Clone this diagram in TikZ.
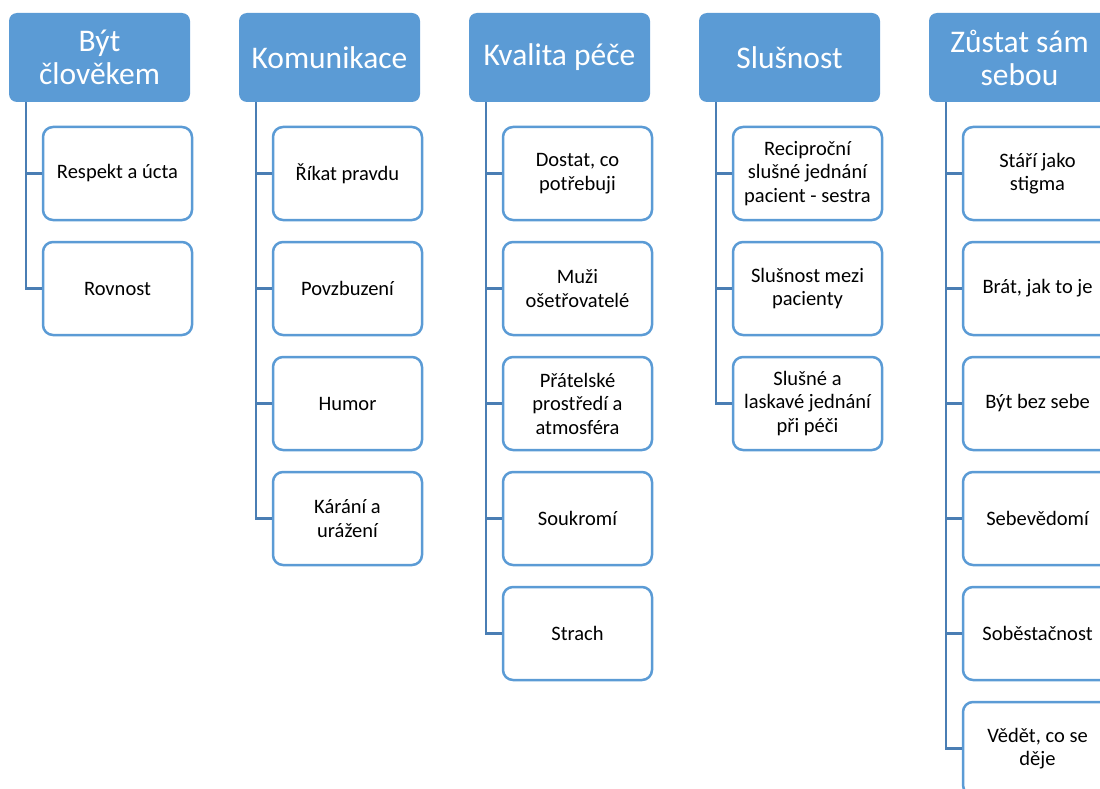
\documentclass[tikz,border=0pt]{standalone}
\usepackage{fontspec}
\setmainfont{Carlito}
\definecolor{hdrblue}{HTML}{5B9BD5}
\definecolor{linkblue}{HTML}{4A7EB4}
\tikzset{
  hdrbox/.style={rectangle, rounded corners=8pt, fill=hdrblue, text=white,
    minimum width=181pt, minimum height=89pt, inner sep=0pt, align=center,
    font=\fontsize{31.5}{33}\selectfont},
  itembox/.style={rectangle, rounded corners=10pt, draw=hdrblue, line width=2.5pt, fill=white,
    minimum width=149pt, minimum height=93pt, inner sep=0pt, align=center,
    font=\fontsize{20.5}{23.5}\selectfont},
  link/.style={draw=linkblue, line width=2.6pt}
}
\begin{document}
\begin{tikzpicture}[x=1pt,y=-1pt]
\useasboundingbox (0,0) rectangle (1100,789);
\clip (0,0) rectangle (1100,789);
% headers
\node[hdrbox] (h1) at (99.5,57.5) {Být\\člověkem};
\node[hdrbox] (h2) at (329.5,57.5) {Komunikace};
\node[hdrbox] (h3) at (559.5,57.5) {Kvalita péče};
\node[hdrbox] (h4) at (789.5,57.5) {Slušnost};
\node[hdrbox] (h5) at (1019.5,57.5) {Zůstat sám\\sebou};
% column 1
\node[itembox] (c11) at (117.5,173.5) {Respekt a úcta};
\node[itembox] (c12) at (117.5,288.5) {Rovnost};
% column 2
\node[itembox] (c21) at (347.5,173.5) {Říkat pravdu};
\node[itembox] (c22) at (347.5,288.5) {Povzbuzení};
\node[itembox] (c23) at (347.5,403.5) {Humor};
\node[itembox] (c24) at (347.5,518.5) {Kárání a\\urážení};
% column 3
\node[itembox] (c31) at (577.5,173.5) {Dostat, co\\potřebuji};
\node[itembox] (c32) at (577.5,288.5) {Muži\\ošetřovatelé};
\node[itembox] (c33) at (577.5,403.5) {Přátelské\\prostředí a\\atmosféra};
\node[itembox] (c34) at (577.5,518.5) {Soukromí};
\node[itembox] (c35) at (577.5,633.5) {Strach};
% column 4
\node[itembox] (c41) at (807.5,173.5) {Reciproční\\slušné jednání\\pacient - sestra};
\node[itembox] (c42) at (807.5,288.5) {Slušnost mezi\\pacienty};
\node[itembox] (c43) at (807.5,403.5) {Slušné a\\laskavé jednání\\při péči};
% column 5
\node[itembox] (c51) at (1037.5,173.5) {Stáří jako\\stigma};
\node[itembox] (c52) at (1037.5,288.5) {Brát, jak to je};
\node[itembox] (c53) at (1037.5,403.5) {Být bez sebe};
\node[itembox] (c54) at (1037.5,518.5) {Sebevědomí};
\node[itembox] (c55) at (1037.5,633.5) {Soběstačnost};
\node[itembox] (c56) at (1037.5,748.5) {Vědět, co se\\děje};
% connectors
\foreach \h/\list in {h1/{c11,c12}, h2/{c21,c22,c23,c24}, h3/{c31,c32,c33,c34,c35}, h4/{c41,c42,c43}, h5/{c51,c52,c53,c54,c55,c56}} {
  \foreach \c in \list {
    \draw[link] ([xshift=17pt]\h.south west) |- (\c.west);
  }
}
\end{tikzpicture}
\end{document}
